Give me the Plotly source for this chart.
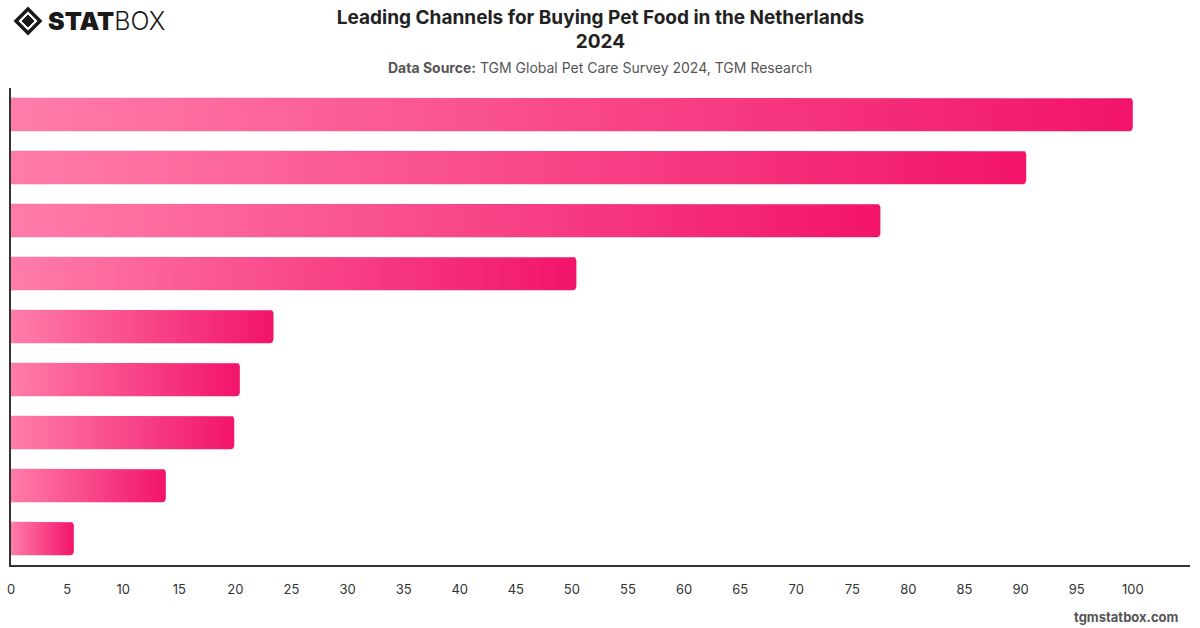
import math
import plotly.graph_objects as go

# ---------------- data ----------------
channels = [
    "Channel A", "Channel B", "Channel C", "Channel D", "Channel E",
    "Channel F", "Channel G", "Channel H", "Channel I",
]
values = [100, 90.5, 77.5, 50.4, 23.4, 20.4, 19.9, 13.8, 5.6]
x_ticks = list(range(0, 101, 5))

title_text = "Leading Channels for Buying Pet Food in the Netherlands<br>2024"
source_text = "<b>Data Source:</b> TGM Global Pet Care Survey 2024, TGM Research"

# ---------------- styling ----------------
W, H = 1200, 628
M_L, M_R, M_T, M_B = 11, 10, 88, 63
X_MAX = 105.1
C_LIGHT = "#FF7DAA"
C_DEEP = "#F2146A"
plot_w = W - M_L - M_R
plot_h = H - M_T - M_B
HALF = 16.75 * len(channels) / plot_h  # half bar thickness (category units)
rx = 3.5 * X_MAX / plot_w             # corner radius in x units
ry = 3.5 * len(channels) / plot_h     # corner radius in y units

fig = go.Figure()
for i, (name, v) in enumerate(zip(channels, values)):
    xs, ys = [0, v - rx], [i - HALF, i - HALF]
    for k in range(1, 7):
        a = -math.pi / 2 + k * (math.pi / 2) / 6
        xs.append(v - rx + rx * math.cos(a))
        ys.append(i - HALF + ry + ry * math.sin(a))
    xs.append(v); ys.append(i + HALF - ry)
    for k in range(1, 7):
        a = k * (math.pi / 2) / 6
        xs.append(v - rx + rx * math.cos(a))
        ys.append(i + HALF - ry + ry * math.sin(a))
    xs += [0, 0]
    ys += [i + HALF, i - HALF]
    fig.add_trace(go.Scatter(
        x=xs, y=ys, mode="lines", fill="toself",
        fillgradient=dict(type="horizontal",
                          colorscale=[[0, C_LIGHT], [1, C_DEEP]]),
        line=dict(width=0), name=name, hoverinfo="skip", showlegend=False,
    ))

def px(xp):
    return (xp - M_L) / plot_w

def py(yp):
    return (H - M_B - yp) / plot_h

# logo icon (diamond shapes)
cx, cy, r = 28, 21, 12
fig.add_shape(type="path", xref="paper", yref="paper",
              path=f"M {px(cx-r)} {py(cy)} L {px(cx)} {py(cy-r)} L {px(cx+r)} {py(cy)} L {px(cx)} {py(cy+r)} Z",
              line=dict(color="#1a1a1a", width=3.5), fillcolor="rgba(0,0,0,0)")
r2 = 6
fig.add_shape(type="path", xref="paper", yref="paper",
              path=f"M {px(cx-r2)} {py(cy)} L {px(cx)} {py(cy-r2)} L {px(cx+r2)} {py(cy)} L {px(cx)} {py(cy+r2)} Z",
              line=dict(color="#1a1a1a", width=1), fillcolor="#1a1a1a")

fig.add_annotation(
    text="<span style='font-weight:900'>STAT</span><span style='font-weight:300'>BOX</span>",
    xref="paper", yref="paper", x=px(46), y=py(21), xanchor="left", yanchor="middle",
    showarrow=False, font=dict(family="Inter", size=25, color="#1a1a1a"),
)

fig.add_annotation(
    text=source_text, xref="paper", yref="paper", x=px(600), y=py(67),
    xanchor="center", yanchor="middle", showarrow=False,
    font=dict(family="Inter", size=14, color="#555555"),
)
fig.add_annotation(
    text="<b>tgmstatbox.com</b>", xref="paper", yref="paper", x=px(1181), y=py(617),
    xanchor="right", yanchor="middle", showarrow=False,
    font=dict(family="Inter", size=13, color="#555555"),
)

fig.update_layout(
    width=W, height=H,
    margin=dict(l=M_L, r=M_R, t=M_T, b=M_B),
    paper_bgcolor="white", plot_bgcolor="white",
    font=dict(family="Inter", color="#333333"),
    title=dict(text=f"<b>{title_text}</b>", x=0.5, xref="paper", xanchor="center",
               y=1 - 23.5 / H, yanchor="middle",
               font=dict(family="Inter", size=19, color="#222222")),
    xaxis=dict(range=[0, X_MAX], tickvals=x_ticks, showgrid=False, zeroline=False,
               showline=True, linecolor="#333333", linewidth=1.5, ticks="",
               ticklabelstandoff=12, tickfont=dict(size=13, color="#333333"),
               automargin=False, fixedrange=True),
    yaxis=dict(range=[len(channels) - 0.5, -0.5], showgrid=False, zeroline=False,
               showline=True, linecolor="#333333", linewidth=1.5,
               showticklabels=False, ticks="", automargin=False, fixedrange=True),
)

fig.write_html("out.html")
